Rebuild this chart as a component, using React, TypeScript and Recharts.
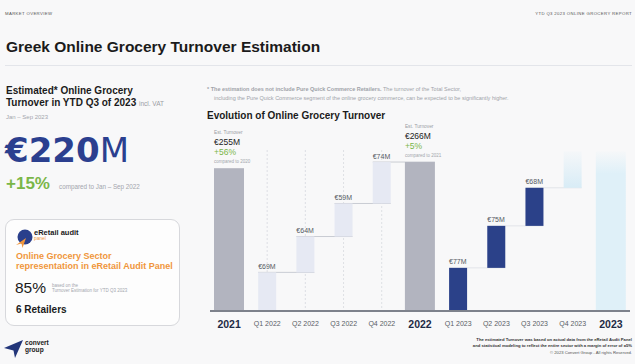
import React from 'react';
import { BarChart, Bar, XAxis, YAxis } from 'recharts';

// ---------- data ----------
const categories = ['2021', 'Q1 2022', 'Q2 2022', 'Q3 2022', 'Q4 2022', '2022', 'Q1 2023', 'Q2 2023', 'Q3 2023', 'Q4 2023', '2023'];
const turnover = [255, 69, 64, 59, 74, 266, 77, 75, 68, 65, 285];
const annualCategories = ['2021', '2022'];
const annualGrowth = ['+56%', '+5%'];
const annualComparedTo = ['compared to 2020', 'compared to 2021'];
const projectedCategories = ['Q4 2023', '2023'];

type Row = { category: string; base: number; value: number };
let running = 0;
const data: Row[] = categories.map((c, i) => {
  const v = turnover[i];
  const isQuarter = c.startsWith('Q');
  let base = 0;
  if (isQuarter) {
    base = running;
    running += v;
  } else {
    running = 0;
  }
  return { category: c, base, value: v };
});

// ---------- layout ----------
const FONT = '"Liberation Sans", Arial, Helvetica, sans-serif';
const CHART_W = 435;
const CHART_H = 215;
const MARGIN = { top: 23, right: 5, bottom: 0, left: 10 };
const AXIS_H = 24;
const PLOT_W = CHART_W - MARGIN.left - MARGIN.right;
const PLOT_H = CHART_H - MARGIN.top - MARGIN.bottom - AXIS_H;
const BASELINE = MARGIN.top + PLOT_H;
const STEP = PLOT_W / categories.length;
const YEAR_W = 30;
const QUARTER_W = 18;

const kindOf = (c: string) => {
  const isQuarter = c.startsWith('Q');
  if (projectedCategories.includes(c)) return isQuarter ? 'projQ' : 'projTotal';
  if (!isQuarter) return 'year';
  const yr = c.split(' ')[1];
  return annualCategories.includes(yr) ? 'qDone' : 'qCur';
};
const widthOf = (c: string) => (c.startsWith('Q') ? QUARTER_W : YEAR_W);

const fills: Record<string, string> = {
  year: '#b2b4bf',
  qDone: '#e6e9f3',
  qCur: '#2b4189',
  projQ: 'url(#fadeShort)',
  projTotal: 'url(#fadeTall)',
};

function WaterfallBar(props: any) {
  const { x, y, width, height, index } = props;
  const row: Row = props.payload && props.payload.category ? props.payload : data[index];
  const c = row.category;
  const kind = kindOf(c);
  const w = widthOf(c);
  const cx = x + width / 2;
  const left = cx - w / 2;
  const next = data[index + 1];
  const parts: React.ReactNode[] = [];
  if (kind === 'qDone') {
    parts.push(
      <line key="g" x1={cx} x2={cx} y1={MARGIN.top + 7} y2={BASELINE} stroke="#d3d5db" strokeWidth={0.7} strokeDasharray="2 2" />
    );
  }
  if ((kind === 'qDone' || kind === 'qCur') && next) {
    const nw = widthOf(next.category);
    parts.push(
      <line key="c" x1={left} x2={cx + STEP + nw / 2} y1={y} y2={y} stroke={kind === 'qDone' ? '#c9ccd3' : '#e2e4e9'} strokeWidth={1} />
    );
  }
  parts.push(<rect key="r" x={left} y={y} width={w} height={Math.max(0, height)} fill={fills[kind]} />);
  if (kind === 'qDone' || kind === 'qCur') {
    parts.push(
      <text key="l" x={left} y={y - 3.5} fontSize={7} fill="#555a63" fontFamily={FONT}>
        {`€${row.value}M`}
      </text>
    );
  }
  if (kind === 'year') {
    const ai = annualCategories.indexOf(c);
    parts.push(
      <g key="y" fontFamily={FONT}>
        <text x={left} y={y - 34} fontSize={4.8} fill="#9a9da4">Est. Turnover</text>
        <text x={left} y={y - 23} fontSize={8.5} fill="#222">{`€${row.value}M`}</text>
        <text x={left} y={y - 13} fontSize={8.5} fill="#7ab648">{annualGrowth[ai]}</text>
        <text x={left} y={y - 5.5} fontSize={4.5} fill="#a3a6ad">{annualComparedTo[ai]}</text>
      </g>
    );
  }
  return <g>{parts}</g>;
}

function AxisTick(props: any) {
  const { x, y, payload } = props;
  const v: string = payload.value;
  const isQuarter = v.startsWith('Q');
  return (
    <text
      x={x}
      y={y + 12.5}
      textAnchor="middle"
      dominantBaseline="central"
      fontFamily={FONT}
      fontSize={isQuarter ? 7 : 10.5}
      fontWeight={isQuarter ? 400 : 700}
      fill={isQuarter ? '#5a5e66' : '#1f2b46'}
    >
      {v}
    </text>
  );
}

const T = ({ x, cy, size, weight = 400, color = '#1b1b1b', right, family, spacing, children }: any) => (
  <div
    style={{
      position: 'absolute',
      top: cy - size * 0.5,
      ...(right !== undefined ? { right } : { left: x }),
      fontSize: size,
      lineHeight: `${size}px`,
      fontWeight: weight,
      color,
      fontFamily: family || FONT,
      whiteSpace: 'nowrap',
      letterSpacing: spacing,
      textAlign: right !== undefined ? 'right' : 'left',
    }}
  >
    {children}
  </div>
);

export default function App() {
  return (
    <div
      style={{
        position: 'absolute',
        left: 0,
        top: 0,
        width: 635,
        height: 364,
        overflow: 'hidden',
        background: '#f8f8f9',
        fontFamily: FONT,
      }}
    >
      {/* header */}
      <T x={5} cy={14.5} size={4.3} color="#555" spacing={0.35}>MARKET OVERVIEW</T>
      <T right={3} cy={14.5} size={4.3} color="#555" spacing={0.35}>YTD Q3 2023 ONLINE GROCERY REPORT</T>
      <T x={6} cy={47} size={15.5} weight={700} color="#1b1b1b">Greek Online Grocery Turnover Estimation</T>
      <div style={{ position: 'absolute', left: 5, top: 65, width: 627, height: 1, background: '#e3e5ea' }} />

      {/* left column */}
      <T x={6} cy={90.7} size={10} weight={700}>Estimated* Online Grocery</T>
      <T x={6} cy={103.3} size={10} weight={700}>
        Turnover in YTD Q3 of 2023 <span style={{ fontSize: 6.5, fontWeight: 400, color: '#9a9da4' }}>incl. VAT</span>
      </T>
      <T x={6} cy={116.7} size={6} color="#a3a6ad">Jan – Sep 2023</T>
      <div
        style={{
          position: 'absolute',
          left: 5,
          top: 131,
          fontFamily: '"DejaVu Sans", sans-serif',
          color: '#2b3f8f',
          fontSize: 34,
          lineHeight: '38px',
          whiteSpace: 'nowrap',
        }}
      >
        <span style={{ fontWeight: 700 }}>€220</span>
        <span style={{ fontWeight: 400 }}>M</span>
      </div>
      <T x={6} cy={183.3} size={17} weight={700} color="#7ab648">+15%</T>
      <T x={59} cy={187} size={6.3} color="#a3a6ad">compared to Jan – Sep 2022</T>

      {/* card */}
      <div
        style={{
          position: 'absolute',
          left: 5,
          top: 219,
          width: 175,
          height: 107,
          boxSizing: 'border-box',
          border: '1px solid #d7d8dc',
          borderRadius: 9,
          background: '#fdfdfd',
        }}
      />
      <svg style={{ position: 'absolute', left: 14, top: 228 }} width={20} height={22} viewBox="0 0 20 22">
        <circle cx={11} cy={9} r={7.5} fill="#2a3f8c" />
        <path d="M2 17 L12 10 L8.5 20 L7.5 15.5 Z" fill="#f0963c" />
      </svg>
      <T x={34} cy={232.3} size={7.5} weight={700} color="#1b1b1b">eRetail audit</T>
      <T x={34} cy={239.3} size={4.8} color="#f0963c">panel</T>
      <T x={16} cy={256.7} size={9} weight={700} color="#f0963c">Online Grocery Sector</T>
      <T x={16} cy={266.7} size={9} weight={700} color="#f0963c">representation in eRetail Audit Panel</T>
      <T x={15} cy={287.3} size={15.5} color="#1b1b1b">85%</T>
      <T x={52} cy={286} size={4.5} color="#a3a6ad">based on the</T>
      <T x={52} cy={291.2} size={4.5} color="#a3a6ad">Turnover Estimation for YTD Q3 2023</T>
      <T x={16} cy={310} size={10} weight={700} color="#1b1b1b">6 Retailers</T>

      {/* convert group logo */}
      <svg style={{ position: 'absolute', left: 3, top: 338 }} width={22} height={22} viewBox="0 0 22 22">
        <path d="M1 10 L20 2 L12 20 L10.5 12.5 Z" fill="#23367a" />
      </svg>
      <T x={25} cy={343.5} size={6.6} weight={700} color="#1b1b1b">convert</T>
      <T x={25} cy={350.5} size={6.6} weight={700} color="#1b1b1b">group</T>

      {/* right column notes */}
      <T x={207} cy={89.5} size={5.5} color="#a0a3a9">
        <span style={{ fontWeight: 700 }}>* The estimation does not include Pure Quick Commerce Retailers.</span> The turnover of the Total Sector,
      </T>
      <T x={214} cy={99} size={5.5} color="#a0a3a9">
        including the Pure Quick Commerce segment of the online grocery commerce, can be expected to be significantly higher.
      </T>
      <T x={207} cy={116} size={10} weight={700} color="#1b1b1b">Evolution of Online Grocery Turnover</T>

      {/* chart */}
      <div style={{ position: 'absolute', left: 200, top: 120 }}>
        <BarChart width={CHART_W} height={CHART_H} data={data} margin={MARGIN} barSize={YEAR_W}>
          <defs>
            <linearGradient id="fadeTall" x1="0" y1="0" x2="0" y2="1">
              <stop offset="0" stopColor="#dff0f8" stopOpacity={0.1} />
              <stop offset="0.14" stopColor="#dff0f8" stopOpacity={1} />
              <stop offset="1" stopColor="#dff0f8" stopOpacity={1} />
            </linearGradient>
            <linearGradient id="fadeShort" x1="0" y1="0" x2="0" y2="1">
              <stop offset="0" stopColor="#d8ecf6" stopOpacity={0.1} />
              <stop offset="1" stopColor="#d8ecf6" stopOpacity={1} />
            </linearGradient>
          </defs>
          <XAxis
            dataKey="category"
            interval={0}
            height={AXIS_H}
            tickLine={false}
            tickSize={0}
            tickMargin={0}
            axisLine={{ stroke: '#7d818b', strokeWidth: 2 }}
            tick={<AxisTick />}
          />
          <YAxis hide domain={[0, 300]} />
          <Bar dataKey="base" stackId="w" fill="transparent" isAnimationActive={false} />
          <Bar dataKey="value" stackId="w" isAnimationActive={false} shape={(p: any) => <WaterfallBar {...p} />} />
        </BarChart>
      </div>

      {/* footnote */}
      <T right={3} cy={340} size={4.2} weight={700} color="#333">
        The estimated Turnover was based on actual data from the eRetail Audit Panel
      </T>
      <T right={3} cy={346.3} size={4.2} weight={700} color="#333">
        and statistical modeling to reflect the entire sector with a margin of error of ±5%
      </T>
      <T right={3} cy={352.7} size={4.2} color="#555">
        © 2023 Convert Group - All rights Reserved.
      </T>
    </div>
  );
}
